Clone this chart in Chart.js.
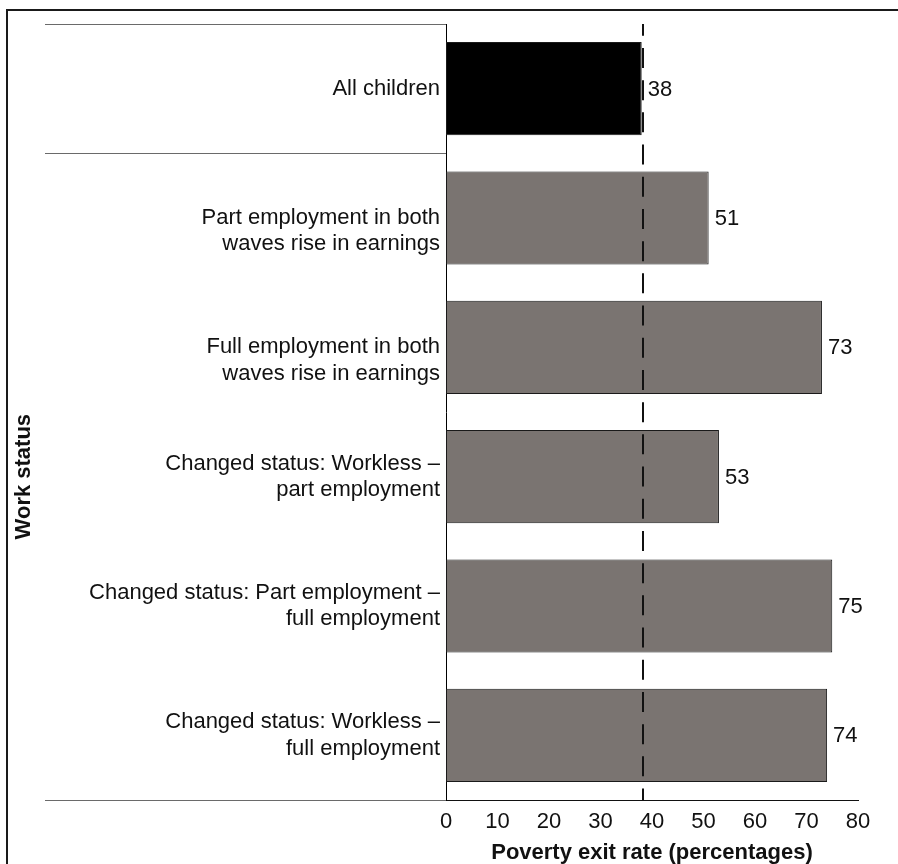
<!DOCTYPE html>
<html>
<head>
<meta charset="utf-8">
<script src="https://cdn.jsdelivr.net/npm/chart.js@4"></script>
<style>
  html, body { margin: 0; padding: 0; background: #fff; }
  canvas { display: block; }
</style>
</head>
<body>
<canvas id="chart" width="898" height="864"></canvas>
<script>
// Category labels (multi-line); a leading blank line keeps the first text line on the bar centre
const categories = [
  ["All children"],
  ["", "Part employment in both", "waves rise in earnings"],
  ["", "Full employment in both", "waves rise in earnings"],
  ["Changed status: Workless \u2013", "part employment"],
  ["Changed status: Part employment \u2013", "full employment"],
  ["Changed status: Workless \u2013", "full employment"]
];
// Poverty exit rate, percentages
const exitRates = [38, 51, 73, 53, 75, 74];
const barColours = ["#000000", "#7a7471", "#7a7471", "#7a7471", "#7a7471", "#7a7471"];
const rateTicks = [0, 10, 20, 30, 40, 50, 60, 70, 80];

const FONT = "'Liberation Sans', Arial, Helvetica, sans-serif";
const INK = "#111111";

// Page frame and the rules of the label panel
const panelPlugin = {
  id: "panel",
  beforeDraw(chart) {
    const ctx = chart.ctx;
    ctx.save();
    ctx.fillStyle = "#fff";
    ctx.fillRect(0, 0, chart.width, chart.height);
    ctx.strokeStyle = "#1a1a1a";
    ctx.lineWidth = 2;
    ctx.strokeRect(7, 10, chart.width + 20, chart.height + 20);
    ctx.restore();
  },
  afterDraw(chart) {
    const ctx = chart.ctx;
    const y = chart.scales.y;
    const area = chart.chartArea;
    const left = area.left - y.width;
    const split = (y.getPixelForValue(0) + y.getPixelForValue(1)) / 2;
    ctx.save();
    ctx.strokeStyle = "#6a6a6a";
    ctx.lineWidth = 1;
    [area.top, split, area.bottom].forEach(py => {
      const yy = Math.round(py) + 0.5;
      ctx.beginPath();
      ctx.moveTo(left, yy);
      ctx.lineTo(area.left, yy);
      ctx.stroke();
    });
    // Vertical axis title, centred on the work-status group
    ctx.fillStyle = INK;
    ctx.font = "bold 22px " + FONT;
    ctx.textAlign = "center";
    ctx.textBaseline = "middle";
    ctx.translate(24, (split + area.bottom) / 2);
    ctx.rotate(-Math.PI / 2);
    ctx.fillText("Work status", 0, 0);
    ctx.restore();
  }
};

// Dashed marker at the all-children rate, plus value labels at bar ends
const markPlugin = {
  id: "marks",
  afterDatasetsDraw(chart) {
    const ctx = chart.ctx;
    const x = chart.scales.x;
    const area = chart.chartArea;
    const px = Math.round(x.getPixelForValue(exitRates[0])) + 1;
    ctx.save();
    ctx.strokeStyle = INK;
    ctx.lineWidth = 2;
    ctx.setLineDash([20, 12.2]);
    ctx.lineDashOffset = 8.25;
    ctx.beginPath();
    ctx.moveTo(px, area.top);
    ctx.lineTo(px, area.bottom);
    ctx.stroke();
    ctx.setLineDash([]);

    ctx.fillStyle = INK;
    ctx.font = "22px " + FONT;
    ctx.textAlign = "left";
    ctx.textBaseline = "middle";
    chart.getDatasetMeta(0).data.forEach((bar, i) => {
      ctx.fillText(String(exitRates[i]), bar.x + 6, bar.y + 1);
    });
    ctx.restore();
  }
};

new Chart(document.getElementById("chart"), {
  type: "bar",
  data: {
    labels: categories,
    datasets: [{
      data: exitRates,
      backgroundColor: barColours,
      borderColor: "#1a1a1a",
      borderWidth: 1,
      borderSkipped: false,
      barPercentage: 0.72,
      categoryPercentage: 1
    }]
  },
  options: {
    indexAxis: "y",
    responsive: false,
    animation: false,
    devicePixelRatio: 1,
    layout: { padding: { left: 45, top: 24, right: 40, bottom: 0 } },
    plugins: {
      legend: { display: false },
      tooltip: { enabled: false }
    },
    scales: {
      x: {
        min: 0,
        max: 80,
        afterBuildTicks(scale) { scale.ticks = rateTicks.map(v => ({ value: v })); },
        afterFit(scale) { scale.height = 64; },
        grid: { display: false, drawTicks: false },
        border: { display: true, color: INK, width: 1 },
        ticks: { color: INK, padding: 9, font: { family: FONT, size: 22 } },
        title: {
          display: true,
          text: "Poverty exit rate (percentages)",
          color: INK,
          padding: { top: -2, bottom: -2 },
          font: { family: FONT, size: 22, weight: "bold" }
        }
      },
      y: {
        afterFit(scale) {
          scale.width = 401;
          scale.paddingTop = 0;
          scale.paddingBottom = 0;
        },
        grid: { display: false, drawTicks: false },
        border: { display: true, color: "#000", width: 1 },
        ticks: { color: INK, padding: 6, font: { family: FONT, size: 22 }, autoSkip: false }
      }
    }
  },
  plugins: [panelPlugin, markPlugin]
});
</script>
</body>
</html>
